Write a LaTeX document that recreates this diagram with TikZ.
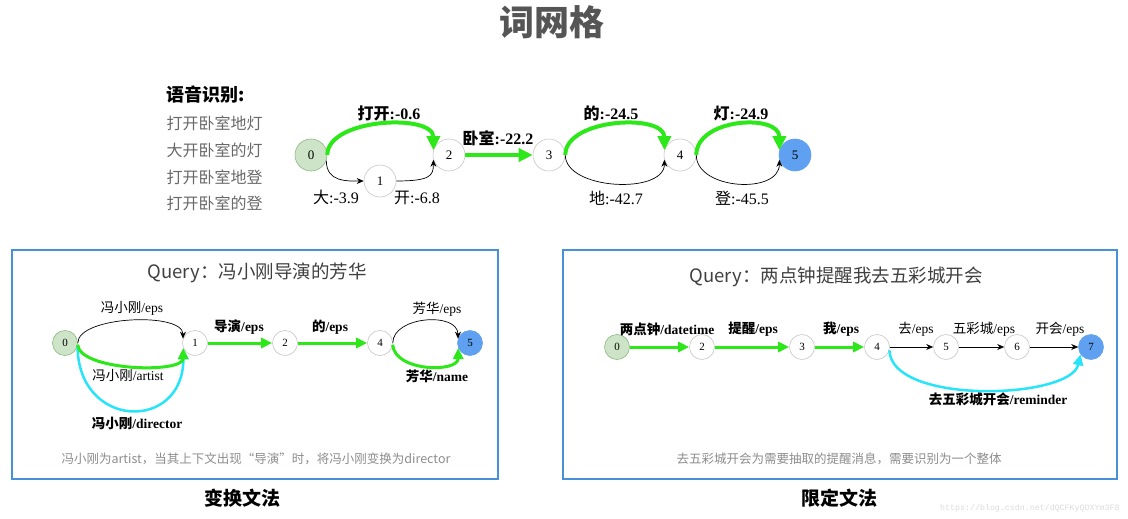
\documentclass[tikz,border=0pt]{standalone}
\usepackage{fontspec}
\setmainfont{Liberation Serif}
\newfontfamily\hei{Noto Sans CJK SC}
\newfontfamily\wmfont{Liberation Mono}
\usetikzlibrary{arrows.meta}

\definecolor{lgreen}{RGB}{45,232,25}
\definecolor{lcyan}{RGB}{40,228,250}
\definecolor{startfill}{RGB}{206,228,200}
\definecolor{startdraw}{RGB}{140,185,130}
\definecolor{finalfill}{RGB}{95,160,240}
\definecolor{boxblue}{RGB}{70,145,215}
\definecolor{titlegray}{RGB}{85,85,85}
\definecolor{listgray}{RGB}{105,105,105}
\definecolor{notegray}{RGB}{140,140,140}

\newcommand\zh[1]{{\hei #1}}
\newcommand\fs[1]{\fontsize{#1}{#1}\selectfont}

\tikzset{
  state/.style={circle, draw=black!22, fill=white, line width=0.6pt,
    minimum size=32pt, inner sep=0pt, font=\fs{13}},
  sstate/.style={state, minimum size=25pt, font=\fs{11}},
  start/.style={fill=startfill, draw=startdraw},
  final/.style={fill=finalfill, draw=finalfill},
  gedge/.style={draw=lgreen, line width=4pt, -{Triangle[length=14pt,width=13pt]}},
  sgedge/.style={draw=lgreen, line width=3pt, -{Triangle[length=11pt,width=10pt]}},
  bedge/.style={draw=black, line width=0.7pt, -{Stealth[length=7pt,width=6pt]}},
  cedge/.style={draw=lcyan, line width=2.5pt, -{Triangle[length=11pt,width=10pt]}},
  lab/.style={font=\fs{16}, inner sep=0pt},
  slab/.style={font=\fs{13.5}, inner sep=0pt},
  query/.style={font=\hei\fs{18.5}, text=black!75},
  note/.style={font=\hei\fs{12.5}, text=notegray},
  caption/.style={font=\hei\bfseries\fs{19}},
  panel/.style={draw=boxblue, line width=1.5pt},
}

\begin{document}
\begin{tikzpicture}[x=1pt,y=-1pt]
  \useasboundingbox (0,0) rectangle (1128,519);

  % Title
  \node[font=\hei\bfseries\fs{35}, text=titlegray] (title) at (552,22) {词网格};

  % Speech recognition results
  \node[anchor=west, font=\hei\bfseries\fs{18}] (asr) at (163,95) {语音识别:};
  \foreach \y/\txt [count=\i] in {123/打开卧室地灯, 150/大开卧室的灯,
      177/打开卧室地登, 203/打开卧室的登} {
    \node[anchor=west, font=\hei\fs{16}, text=listgray] (hyp\i) at (163,\y) {\txt};
  }

  % Word lattice
  \node[state, start] (n0) at (311,155) {0};
  \node[state] (n1) at (380,181) {1};
  \node[state] (n2) at (449,155) {2};
  \node[state] (n3) at (549,155) {3};
  \node[state] (n4) at (680,155) {4};
  \node[state, final] (n5) at (795,155) {5};

  \draw[bedge] (n0.-20) .. controls +(0,22) and +(-16,0) .. (n1.west);
  \draw[bedge] (n1.east) .. controls +(34,0) and +(0,16) .. (n2.197);
  \draw[gedge] (n0.east) .. controls +(0,-37) and +(0,-37) .. (n2.163);
  \draw[gedge] (n2) -- (n3);
  \draw[bedge] (n3.east) .. controls +(0,35) and +(0,35) .. (n4.197);
  \draw[gedge] (n3.east) .. controls +(0,-37) and +(0,-37) .. (n4.163);
  \draw[bedge] (n4.east) .. controls +(0,35) and +(0,35) .. (n5.197);
  \draw[gedge] (n4.east) .. controls +(0,-37) and +(0,-37) .. (n5.163);

  \node[lab, font=\bfseries\fs{16}] (l02) at (389,113) {\zh{打开}:-0.6};
  \node[lab, font=\bfseries\fs{16}] (l23) at (498,138) {\zh{卧室}:-22.2};
  \node[lab, font=\bfseries\fs{16}] (l34) at (611,113) {\zh{的}:-24.5};
  \node[lab, font=\bfseries\fs{16}] (l45) at (741,113) {\zh{灯}:-24.9};
  \node[lab] (l01) at (336,197) {\zh{大}:-3.9};
  \node[lab] (l12) at (417,198) {\zh{开}:-6.8};
  \node[lab] (l34b) at (616,198) {\zh{地}:-42.7};
  \node[lab] (l45b) at (742,198) {\zh{登}:-45.5};

  % Panel: transform grammar
  \draw[panel] (12,250) rectangle (498,479);
  \node[query] (q1) at (257,273) {Query：冯小刚导演的芳华};

  \node[sstate, start] (a0) at (65,343) {0};
  \node[sstate] (a1) at (195,343) {1};
  \node[sstate] (a2) at (285,343) {2};
  \node[sstate] (a4) at (380,343) {4};
  \node[sstate, final] (a5) at (470,343) {5};

  \draw[cedge] (a0.-12) .. controls +(0,84) and +(0,84) .. (a1.205);
  \draw[sgedge] (a0.-8) .. controls +(2,26) and +(0,26) .. (a1.203);
  \draw[bedge] (a0.east) .. controls +(0,-27) and +(0,-27) .. (a1.160);
  \draw[sgedge] (a1) -- (a2);
  \draw[sgedge] (a2) -- (a4);
  \draw[bedge] (a4.east) .. controls +(0,-27) and +(0,-27) .. (a5.160);
  \draw[sgedge] (a4.-8) .. controls +(2,27) and +(0,25) .. (a5.203);

  \node[slab] (e01) at (132,308) {\zh{冯小刚}/eps};
  \node[slab] (e01a) at (128,375) {\zh{冯小刚}/artist};
  \node[slab, font=\bfseries\fs{13.5}] (e01d) at (137,423) {\zh{冯小刚}/director};
  \node[slab, font=\bfseries\fs{13.5}] (e12) at (239,327) {\zh{导演}/eps};
  \node[slab, font=\bfseries\fs{13.5}] (e24) at (330,327) {\zh{的}/eps};
  \node[slab] (e45) at (437,309) {\zh{芳华}/eps};
  \node[slab, font=\bfseries\fs{13.5}] (e45n) at (437,376) {\zh{芳华}/name};

  \node[note] (n1txt) at (256,459) {冯小刚为artist，当其上下文出现“导演”时，将冯小刚变换为director};
  \node[caption] (cap1) at (242,498) {变换文法};

  % Panel: restricted grammar
  \draw[panel] (563,250) rectangle (1117,479);
  \node[query] (q2) at (836,277) {Query：两点钟提醒我去五彩城开会};

  \node[sstate, start] (b0) at (617,347) {0};
  \foreach \x/\k in {702/2, 802/3, 877/4, 946/5, 1017/6} {
    \node[sstate] (b\k) at (\x,347) {\k};
  }
  \node[sstate, final] (b7) at (1091,347) {7};

  \draw[sgedge] (b0) -- (b2);
  \draw[sgedge] (b2) -- (b3);
  \draw[sgedge] (b3) -- (b4);
  \draw[bedge] (b4) -- (b5);
  \draw[bedge] (b5) -- (b6);
  \draw[bedge] (b6) -- (b7);
  \draw[cedge] (b4.-15) .. controls +(2,55) and +(-10,45) .. (b7.215);

  \node[slab, font=\bfseries\fs{13.5}] (f02) at (667,329) {\zh{两点钟}/datetime};
  \node[slab, font=\bfseries\fs{13.5}] (f23) at (753,329) {\zh{提醒}/eps};
  \node[slab, font=\bfseries\fs{13.5}] (f34) at (841,329) {\zh{我}/eps};
  \node[slab] (f45) at (916,329) {\zh{去}/eps};
  \node[slab] (f56) at (984,329) {\zh{五彩城}/eps};
  \node[slab] (f67) at (1060,329) {\zh{开会}/eps};
  \node[slab, font=\bfseries\fs{13.5}] (f47) at (998,399) {\zh{去五彩城开会}/reminder};

  \node[note] (n2txt) at (839,459) {去五彩城开会为需要抽取的提醒消息，需要识别为一个整体};
  \node[caption] (cap2) at (839,498) {限定文法};

  % Watermark
  \node[anchor=west, font=\wmfont\fs{8.3}, text=black!14, inner sep=0pt] (wm)
    at (940,508) {https://blog.csdn.net/dQCFKyQDXYm3F8};
\end{tikzpicture}
\end{document}
